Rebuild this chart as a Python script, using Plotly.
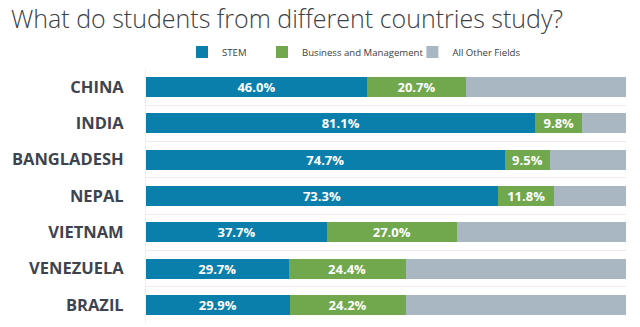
import plotly.graph_objects as go

countries = ["CHINA", "INDIA", "BANGLADESH", "NEPAL", "VIETNAM", "VENEZUELA", "BRAZIL"]
stem = [46.0, 81.1, 74.7, 73.3, 37.7, 29.7, 29.9]
business = [20.7, 9.8, 9.5, 11.8, 27.0, 24.4, 24.2]
other = [33.3, 9.1, 15.8, 14.9, 35.3, 45.9, 45.9]

series_names = ["STEM", "Business and Management", "All Other Fields"]
colors = ["#0b7fab", "#71a84d", "#a9b7c3"]
legend_ids = ["legend", "legend2", "legend3"]
legend_x = [0.075, 0.2417, 0.555]

fig = go.Figure()
for name, vals, col, show, lg in zip(series_names, [stem, business, other], colors,
                                     [True, True, False], legend_ids):
    fig.add_trace(go.Bar(
        y=countries, x=vals, name=name, orientation="h",
        marker=dict(color=col, line=dict(width=0)),
        texttemplate="%{x:.1f}%" if show else None,
        textposition="inside" if show else "none",
        insidetextanchor="middle",
        textfont=dict(family="Open Sans", size=13, color="white", weight="bold"),
        hoverinfo="skip",
        legend=lg,
    ))

legend_style = dict(
    orientation="h", xanchor="left", y=1.067, yanchor="middle",
    font=dict(family="Open Sans", size=9.6, color="#404040"),
    bgcolor="rgba(0,0,0,0)",
)
fig.update_layout(
    barmode="stack",
    bargap=0.45,
    width=640, height=327,
    margin=dict(l=146, r=14, t=69, b=4),
    paper_bgcolor="white", plot_bgcolor="white",
    uniformtext=dict(minsize=13, mode="show"),
    title=dict(
        text="What do students from different countries study?",
        font=dict(family="Open Sans", size=25, color="#3b4047", weight=300),
        x=11/640, xanchor="left", xref="container",
        y=1-19/327, yanchor="middle", yref="container",
    ),
    legend=dict(x=legend_x[0], **legend_style),
    legend2=dict(x=legend_x[1], **legend_style),
    legend3=dict(x=legend_x[2], **legend_style),
    showlegend=True,
)
fig.update_xaxes(range=[0, 100], visible=False, fixedrange=True)
fig.update_yaxes(
    autorange="reversed", type="category", tickson="boundaries",
    showgrid=True, gridcolor="#f3e9ef", gridwidth=1,
    showline=True, linecolor="#eeeeee", linewidth=1,
    ticks="", ticklabelstandoff=18,
    tickfont=dict(family="Open Sans", size=16.5, color="#3d4450", weight=700),
)

fig.write_html("out.html")
